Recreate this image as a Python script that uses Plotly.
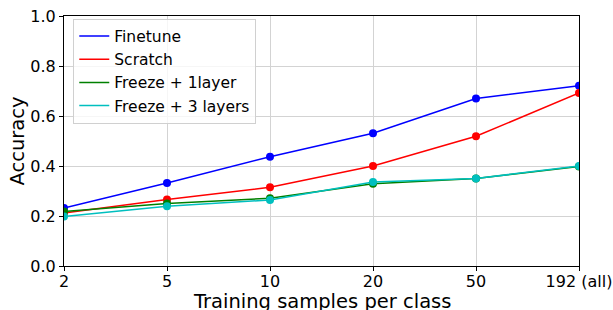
import plotly.graph_objects as go

categories = ["2", "5", "10", "20", "50", "192 (all)"]
finetune = [0.232, 0.332, 0.437, 0.531, 0.670, 0.721]
scratch = [0.212, 0.266, 0.315, 0.400, 0.519, 0.692]
freeze1 = [0.218, 0.250, 0.271, 0.329, 0.350, 0.398]
freeze3 = [0.198, 0.239, 0.264, 0.336, 0.350, 0.400]
series = [
    ("Finetune", finetune, "#0000ff"),
    ("Scratch", scratch, "#ff0000"),
    ("Freeze + 1layer", freeze1, "#008000"),
    ("Freeze + 3 layers", freeze3, "#00bfbf"),
]
y_ticks = [0.0, 0.2, 0.4, 0.6, 0.8, 1.0]

fig = go.Figure()
for i, (name, vals, col) in enumerate(series):
    fig.add_trace(go.Scatter(x=categories, y=vals, mode="lines", name=name,
                             line=dict(color=col, width=1.5), legendgroup=str(i)))
for i, (name, vals, col) in enumerate(series):
    fig.add_trace(go.Scatter(x=categories, y=vals, mode="markers", name=name,
                             marker=dict(color=col, size=8), showlegend=False,
                             legendgroup=str(i), cliponaxis=True))

font = "DejaVu Sans, sans-serif"
fig.update_layout(
    template="none",
    width=613, height=310,
    margin=dict(l=64, r=34, t=16, b=44, autoexpand=False),
    paper_bgcolor="white", plot_bgcolor="white",
    font=dict(family=font, size=16, color="black"),
    showlegend=True,
    legend=dict(x=0.018, y=0.99, xanchor="left", yanchor="top",
                bgcolor="rgba(255,255,255,0.8)", bordercolor="#d0d0d0", borderwidth=1,
                font=dict(size=15.5), tracegroupgap=0, itemwidth=30),
    annotations=[dict(text="Training samples per class", xref="paper", yref="paper",
                      x=0.5, y=0, xanchor="center", yanchor="top", yshift=-22,
                      showarrow=False, font=dict(size=19.5))],
)
fig.update_xaxes(type="category", range=[0, 5], categoryorder="array", categoryarray=categories,
                 automargin=False,
                 showgrid=True, gridcolor="#d3d3d3", gridwidth=1,
                 showline=True, linecolor="black", linewidth=1.2, mirror=True,
                 ticks="outside", ticklen=4, tickcolor="black", tickfont=dict(size=16),
                 ticklabelstandoff=-3)
fig.update_yaxes(range=[0, 1], tickvals=y_ticks, tickformat=".1f", automargin=False,
                 showgrid=True, gridcolor="#d3d3d3", gridwidth=1,
                 showline=True, linecolor="black", linewidth=1.2, mirror=True,
                 ticks="outside", ticklen=4, tickcolor="black", zeroline=False,
                 tickfont=dict(size=16),
                 title=dict(text="Accuracy", font=dict(size=19.5), standoff=0))

fig.write_html("out.html", config={"displayModeBar": False},
               post_script="document.body.style.margin='0';document.body.style.overflow='hidden';")
